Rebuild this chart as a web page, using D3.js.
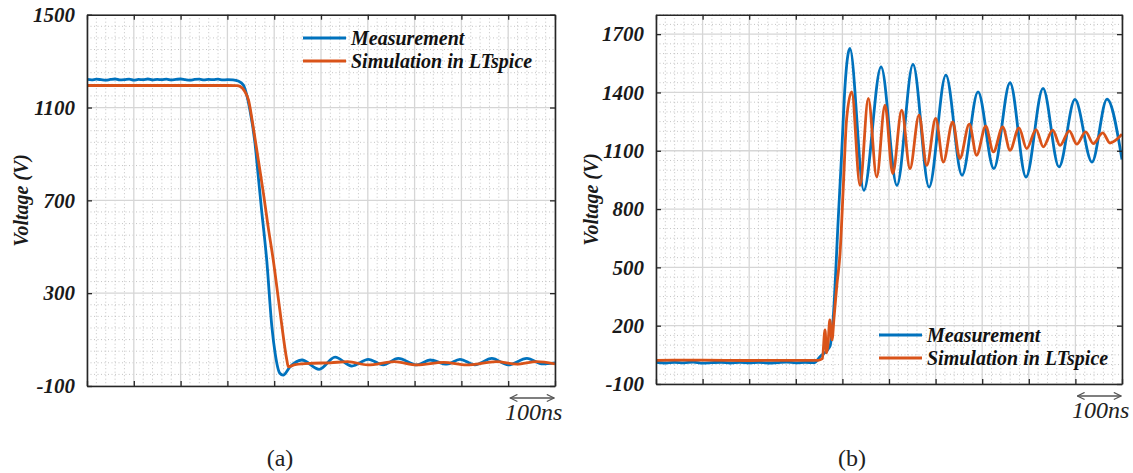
<!DOCTYPE html>
<html><head><meta charset="utf-8">
<script src="https://cdn.jsdelivr.net/npm/d3@7"></script>
<style>body{margin:0;background:#fff;} svg{display:block;} text{font-family:"Times New Roman","Liberation Serif",Tinos,serif;}</style>
</head><body>
<svg id="c" width="1133" height="473"></svg>
<script>
// ---------------- data ----------------
const xTicks = [0,100,200,300,400,500,600,700,800,900,1000];   // ns
const aYTicks = [-100,300,700,1100,1500];
const bYTicks = [-100,200,500,800,1100,1400,1700];
const legendLabels = ["Measurement","Simulation in LTspice"];
const scaleLabel = "100ns";
const yLabel = "Voltage (V)";
const panelLabels = ["(a)","(b)"];

// panel (a): measurement
const aMeasT = [0,10,20,30,40,50,60,70,80,90,100,110,120,130,140,150,160,170,180,190,200,210,220,230,240,250,260,270,280,290,300,
  312,323,334,348,359,366,373,384,395,402,412,419,434,459,496,530,566,601,633,665,705,733,769,797,829,865,900,940,974,1000];
const aMeasV = [1221,1219,1222,1220,1218,1221,1223,1219,1220,1222,1218,1221,1220,1223,1219,1221,1220,1222,1219,1221,1223,1220,1218,1221,1222,1219,1221,1220,1222,1219,1220,
  1219,1214,1197,1090,946,802,659,443,156,41,-45,-53,-17,12,-28,24,-14,15,-9,19,-9,12,-6,15,-9,19,-9,19,-5,0];
// panel (a): simulation
const aSimT = [0,300,320,327,337,345,355,366,377,387,398,412,427,430,445,483,520,557,600,657,705,762,811,875,918,961,1000];
const aSimV = [1195,1195,1194,1191,1170,1133,1018,875,730,587,443,228,12,-17,-8,-2,0,5,-9,5,-9,2,-9,5,-6,5,-5];

// panel (b): measurement
const bMeasT = [0,20,40,60,80,100,120,140,160,180,200,220,240,260,280,300,320,340,
  352,373,380,391,398.5,405.6,416,446,483,517,551.5,586,622,656.7,691,725,759.7,794,830.5,864.8,899,935.6,967.8,1000];
const bMeasV = [12,8,11,9,13,7,10,12,8,11,9,12,8,10,13,9,11,10,
  41,92,230,745,1091,1432,1627,896,1532,922,1544,913,1489,974,1403,1008,1450,965,1421,1017,1364,1042,1366,1055];
// panel (b): simulation
const bSimT = [0,100,200,300,348,357,362.7,366,369,373,377.7,382,387.8,395,402,409,420,437.8,455.6,473.6,491.4,508,527.3,545,564.4,581,600.2,616.5,636.7,652,672.3,688,707.5,724,744,759.7,779,795.5,815.5,831,851.3,867,887,902.8,922,938.4,958.6,974.2,1000];
const bSimV = [22,23,21,22,22,30,178,60,101,230,127,240,401,575,917,1261,1403,922,1369,965,1335,982,1309,1008,1283,1025,1266,1042,1249,1060,1237,1077,1226,1094,1223,1103,1218,1111,1209,1120,1206,1128,1202,1134,1197,1137,1192,1140,1185];

// ---------------- drawing ----------------
const BLUE = "#0072BD", ORANGE = "#D95319";
const FONT = '"Times New Roman","Liberation Serif",Tinos,serif';
const svg = d3.select("#c");
svg.append("rect").attr("width",1133).attr("height",473).attr("fill","#fff");

const panels = [
  {id:"a", x0:87, x1:555, y0:14.7, y1:386, yDom:[-100,1500], yTicks:aYTicks, yMinorStep:50,
   series:[[aMeasT,aMeasV,BLUE],[aSimT,aSimV,ORANGE]],
   legend:{x:303, y:38}, labelX:21, panelLabel:panelLabels[0], plX:280},
  {id:"b", x0:656, x1:1122, y0:14.7, y1:384, yDom:[-100,1800], yTicks:bYTicks, yMinorStep:50,
   series:[[bMeasT,bMeasV,BLUE],[bSimT,bSimV,ORANGE]],
   legend:{x:879, y:335}, labelX:591, panelLabel:panelLabels[1], plX:852}
];

const defs = svg.append("defs");
defs.append("marker").attr("id","ah").attr("viewBox","0 0 10 10").attr("refX",9).attr("refY",5)
  .attr("markerWidth",9).attr("markerHeight",9).attr("orient","auto-start-reverse").attr("markerUnits","userSpaceOnUse")
  .append("path").attr("d","M1,1 L9,5 L1,9").attr("fill","none").attr("stroke","#555").attr("stroke-width",1.3);

panels.forEach(p => {
  const x = d3.scaleLinear().domain([0,1000]).range([p.x0,p.x1]);
  const y = d3.scaleLinear().domain(p.yDom).range([p.y1,p.y0]);
  const g = svg.append("g");
  defs.append("clipPath").attr("id","clip"+p.id).append("rect")
    .attr("x",p.x0).attr("y",p.y0).attr("width",p.x1-p.x0).attr("height",p.y1-p.y0);

  // minor grid
  const xMinor = d3.range(0,1000.01,20).filter(v => v%100!==0);
  const yMinor = d3.range(p.yDom[0], p.yDom[1]+0.01, p.yMinorStep).filter(v => !p.yTicks.includes(v));
  g.selectAll(".mx").data(xMinor).join("line")
    .attr("x1",d=>x(d)).attr("x2",d=>x(d)).attr("y1",p.y0).attr("y2",p.y1)
    .attr("stroke","#bdbdbd").attr("stroke-width",0.9).attr("stroke-dasharray","1,2.5");
  g.selectAll(".my").data(yMinor).join("line")
    .attr("y1",d=>y(d)).attr("y2",d=>y(d)).attr("x1",p.x0).attr("x2",p.x1)
    .attr("stroke","#bdbdbd").attr("stroke-width",0.9).attr("stroke-dasharray","1,2.5");
  // major grid
  g.selectAll(".gx").data(xTicks).join("line")
    .attr("x1",d=>x(d)).attr("x2",d=>x(d)).attr("y1",p.y0).attr("y2",p.y1)
    .attr("stroke","#d6d6d6").attr("stroke-width",1.3);
  g.selectAll(".gy").data(p.yTicks).join("line")
    .attr("y1",d=>y(d)).attr("y2",d=>y(d)).attr("x1",p.x0).attr("x2",p.x1)
    .attr("stroke","#d6d6d6").attr("stroke-width",1.3);

  // series
  const lg = g.append("g").attr("clip-path",`url(#clip${p.id})`);
  p.series.forEach(([T,V,col]) => {
    const pts = T.map((t,i)=>[t,V[i]]);
    lg.append("path").datum(pts)
      .attr("d", d3.line().x(d=>x(d[0])).y(d=>y(d[1])).curve(d3.curveMonotoneX))
      .attr("fill","none").attr("stroke",col).attr("stroke-width",2.8).attr("stroke-linejoin","round");
  });

  // axes (ticks inward, all four sides)
  const tk = 5;
  const axB = d3.axisBottom(x).tickValues(xTicks).tickSizeInner(-tk).tickSizeOuter(0).tickFormat("");
  const axT = d3.axisTop(x).tickValues(xTicks).tickSizeInner(-tk).tickSizeOuter(0).tickFormat("");
  const axL = d3.axisLeft(y).tickValues(p.yTicks).tickSizeInner(-tk).tickSizeOuter(0).tickPadding(12).tickFormat(d => String(d));
  const axR = d3.axisRight(y).tickValues(p.yTicks).tickSizeInner(-tk).tickSizeOuter(0).tickFormat("");
  const style = s => { s.select(".domain").attr("stroke","#262626").attr("stroke-width",1.6);
    s.selectAll(".tick line").attr("stroke","#262626").attr("stroke-width",1.3); };
  g.append("g").attr("transform",`translate(0,${p.y1})`).call(axB).call(style);
  g.append("g").attr("transform",`translate(0,${p.y0})`).call(axT).call(style);
  g.append("g").attr("transform",`translate(${p.x1},0)`).call(axR).call(style);
  const gl = g.append("g").attr("transform",`translate(${p.x0},0)`).call(axL).call(style);
  gl.attr("font-family",FONT);
  gl.selectAll(".tick text").attr("font-family",FONT).attr("font-weight","bold")
    .attr("font-style","italic").attr("font-size",21).attr("fill","#1a1a1a");

  // y label
  g.append("text").attr("transform",`translate(${p.labelX},${(p.y0+p.y1)/2}) rotate(-90)`)
    .attr("text-anchor","middle").attr("dy","0.35em")
    .attr("font-family",FONT).attr("font-weight","bold").attr("font-style","italic")
    .attr("font-size",20).attr("fill","#1a1a1a").text(yLabel);

  // legend
  legendLabels.forEach((lab,i) => {
    const ly = p.legend.y + i*23;
    g.append("line").attr("x1",p.legend.x).attr("x2",p.legend.x+43).attr("y1",ly).attr("y2",ly)
      .attr("stroke", i===0?BLUE:ORANGE).attr("stroke-width",2.8);
    g.append("text").attr("x",p.legend.x+48).attr("y",ly).attr("dy","0.33em")
      .attr("font-family",FONT).attr("font-weight","bold").attr("font-style","italic")
      .attr("font-size",20).attr("fill","#111").text(lab);
  });

  // scale bar
  g.append("line").attr("x1",x(900)+2).attr("x2",x(1000)-1).attr("y1",p.y1+12).attr("y2",p.y1+12)
    .attr("stroke","#555").attr("stroke-width",1.3)
    .attr("marker-start","url(#ah)").attr("marker-end","url(#ah)");
  g.append("text").attr("x",(x(900)+x(1000))/2+2).attr("y",p.y1+34).attr("text-anchor","middle")
    .attr("font-family",FONT).attr("font-style","italic").attr("font-size",24)
    .attr("fill","#222").text(scaleLabel);

  // panel label
  g.append("text").attr("x",p.plX).attr("y",466).attr("text-anchor","middle")
    .attr("font-family",FONT).attr("font-size",24).attr("fill","#222").text(p.panelLabel);
});
</script>
</body></html>
